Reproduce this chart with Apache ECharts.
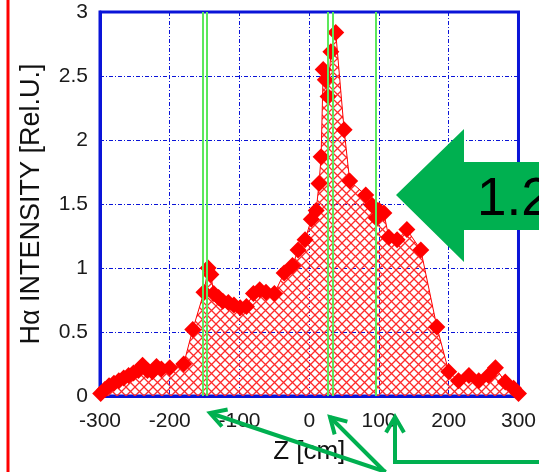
<!DOCTYPE html>
<html>
<head>
<meta charset="utf-8">
<script src="https://cdn.jsdelivr.net/npm/echarts@6/dist/echarts.min.js"></script>
<style>
  html, body { margin: 0; padding: 0; background: #ffffff; }
  #chart { width: 539px; height: 472px; }
</style>
</head>
<body>
<div id="chart"></div>
<script>
// Axial position along the device [cm]
const zPos = [-299, -293, -287, -280, -273, -266, -259, -252, -245, -239, -232, -225, -219, -212,
  -200, -180, -167, -151, -145, -141, -137, -130, -124, -116, -108, -99, -90, -80, -71, -62,
  -50, -36, -24, -16, -6, 3, 10, 14, 17, 20, 23, 27, 31, 38, 50, 58, 81, 90, 96, 100, 107,
  114, 126, 140, 160, 183, 200, 214, 229, 243, 257, 267, 281, 293, 300];
// H-alpha line intensity [Rel.U.]
const intensity = [0.02, 0.05, 0.08, 0.10, 0.12, 0.14, 0.16, 0.18, 0.20, 0.24, 0.20, 0.19, 0.23, 0.21,
  0.22, 0.25, 0.52, 0.81, 1.00, 0.95, 0.80, 0.77, 0.74, 0.73, 0.71, 0.69, 0.70, 0.80, 0.83, 0.81,
  0.80, 0.96, 1.02, 1.14, 1.22, 1.38, 1.45, 1.66, 1.87, 2.55, 2.47, 2.34, 2.69, 2.84, 2.08, 1.68,
  1.57, 1.49, 1.39, 1.45, 1.43, 1.24, 1.22, 1.30, 1.14, 0.54, 0.19, 0.12, 0.16, 0.12, 0.16, 0.22,
  0.11, 0.06, 0.02];
// Positions of the green reference lines [cm]
const markerZ = [-152, -147, 27, 33, 95];
const xTicks = { min: -300, max: 300, step: 100 };
const yTicks = { min: 0, max: 3, step: 0.5 };

const FONT = 'Arial, "Liberation Sans", sans-serif';
const BLUE = '#0a14d8';
const GREEN = '#00b050';

// Red cross-hatch used to fill the area under the profile
function hatch() {
  const s = 9;
  const c = document.createElement('canvas');
  c.width = s; c.height = s;
  const g = c.getContext('2d');
  g.strokeStyle = '#ff2a2a';
  g.lineWidth = 1.3;
  g.beginPath();
  g.moveTo(-1, -1); g.lineTo(s + 1, s + 1);
  g.moveTo(s + 1, -1); g.lineTo(-1, s + 1);
  g.stroke();
  return c;
}

// Straight arrow with an open V head; returns graphic elements
function arrow(tail, tip, via) {
  const pts = via ? [tail].concat(via, [tip]) : [tail, tip];
  const prev = pts[pts.length - 2];
  const dx = prev[0] - tip[0], dy = prev[1] - tip[1];
  const len = Math.hypot(dx, dy);
  const ux = dx / len, uy = dy / len;
  const head = 18, ang = Math.PI / 6;
  const rot = (a) => [tip[0] + head * (ux * Math.cos(a) - uy * Math.sin(a)),
                      tip[1] + head * (ux * Math.sin(a) + uy * Math.cos(a))];
  const style = { stroke: GREEN, lineWidth: 4, fill: null, lineJoin: 'miter' };
  return [
    { type: 'polyline', shape: { points: pts }, style: style, z: 100 },
    { type: 'polyline', shape: { points: [rot(ang), tip, rot(-ang)] }, style: style, z: 100 }
  ];
}

const chart = echarts.init(document.getElementById('chart'), null, { renderer: 'canvas' });

const data = zPos.map((z, i) => [z, intensity[i]]);
const gridLine = { show: true, lineStyle: { color: BLUE, width: 1, type: [4, 2, 1, 2] } };

chart.setOption({
  animation: false,
  backgroundColor: '#ffffff',
  grid: { left: 100, right: 19, top: 12, bottom: 76, show: true, borderColor: BLUE, borderWidth: 3 },
  xAxis: {
    type: 'value', min: xTicks.min, max: xTicks.max, interval: xTicks.step,
    name: 'Z [cm]', nameLocation: 'middle', nameGap: 43,
    nameTextStyle: { fontFamily: FONT, fontSize: 26, color: '#111' },
    axisLine: { show: true, onZero: false, lineStyle: { color: BLUE, width: 3 } },
    axisTick: { show: false },
    axisLabel: { fontFamily: FONT, fontSize: 21, color: '#1a1a1a', margin: 15 },
    splitLine: gridLine
  },
  yAxis: {
    type: 'value', min: yTicks.min, max: yTicks.max, interval: yTicks.step,
    name: 'H\u03b1 INTENSITY [Rel.U.]', nameLocation: 'middle', nameGap: 55,
    nameTextStyle: { fontFamily: FONT, fontSize: 27, color: '#111' },
    axisLine: { show: true, onZero: false, lineStyle: { color: BLUE, width: 3 } },
    axisTick: { show: false },
    axisLabel: { fontFamily: FONT, fontSize: 21, color: '#1a1a1a', margin: 12 },
    splitLine: gridLine
  },
  series: [
    {
      type: 'line',
      data: data,
      symbol: 'diamond',
      symbolSize: 17,
      itemStyle: { color: '#ff0000' },
      lineStyle: { color: '#ff0000', width: 1 },
      areaStyle: { color: { image: hatch(), repeat: 'repeat' }, opacity: 1 },
      z: 3,
      markLine: {
        silent: true,
        symbol: 'none',
        label: { show: false },
        lineStyle: { color: '#5be85b', width: 2, type: 'solid' },
        data: markerZ.map((z) => ({ xAxis: z }))
      }
    }
  ],
  graphic: [
    // red rule at the left edge
    { type: 'line', shape: { x1: 8, y1: 0, x2: 8, y2: 472 }, style: { stroke: '#ff0000', lineWidth: 3 }, z: 100 },
    // block arrow with value label
    {
      type: 'polygon', z: 100,
      shape: { points: [[396, 195], [464, 129], [464, 162], [539, 162], [539, 230], [464, 230], [464, 262]] },
      style: { fill: GREEN }
    },
    {
      type: 'text', z: 101, x: 477, y: 200,
      style: { text: '1.2', fontFamily: FONT, fontSize: 53, fill: '#000', textVerticalAlign: 'middle' }
    }
  ]
    .concat(arrow([386, 472], [210, 413]))
    .concat(arrow([385, 472], [330, 417]))
    .concat(arrow([539, 462], [395, 417], [[395, 462]]))
});
</script>
</body>
</html>
